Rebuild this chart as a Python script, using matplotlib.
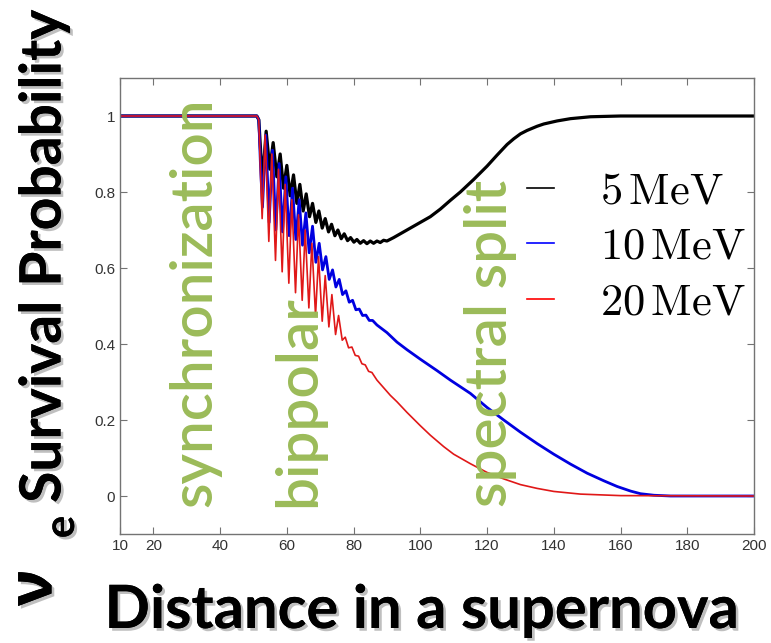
import matplotlib
matplotlib.use('Agg')
import matplotlib.pyplot as plt
import matplotlib.patheffects as pe

# distance in a supernova and nu_e survival probability
x_5mev = [10, 51.0, 51.6, 52.2, 52.8, 53.8, 54.9, 55.9, 57.0, 58.0, 59.0, 60.0,
          61.0, 62.0, 63.0, 63.9, 64.9, 65.8, 66.8, 67.7, 68.7, 69.6, 70.6,
          71.5, 72.5, 73.4, 74.4, 75.3, 76.3, 77.2, 78.2, 79.1, 80.1, 81.0,
          82.0, 83.0, 84.0, 85.0, 86.0, 87.0, 88.0, 89.0, 90.0, 92, 95, 100,
          103, 106, 109, 112, 116, 120, 123, 126, 128, 130, 132, 135, 137,
          141, 145, 151, 160, 200]
p_5mev = [1, 1, 0.99, 0.90, 0.84, 0.96, 0.86, 0.93, 0.84, 0.90, 0.81, 0.87,
          0.79, 0.845, 0.77, 0.82, 0.75, 0.795, 0.735, 0.77, 0.72, 0.75, 0.705,
          0.73, 0.695, 0.715, 0.685, 0.70, 0.677, 0.69, 0.672, 0.68, 0.668,
          0.675, 0.665, 0.672, 0.664, 0.671, 0.665, 0.671, 0.667, 0.673, 0.671,
          0.68, 0.695, 0.72, 0.735, 0.755, 0.778, 0.80, 0.833, 0.868, 0.897,
          0.925, 0.94, 0.953, 0.962, 0.973, 0.979, 0.987, 0.993, 0.998, 1.0,
          1.0]

x_10mev = [10, 51.0, 51.6, 52.1, 52.7, 53.7, 54.7, 55.7, 56.7, 57.7, 58.7,
           59.7, 60.7, 61.7, 62.7, 63.7, 64.7, 65.7, 66.7, 67.7, 68.7, 69.7,
           70.7, 71.7, 72.7, 73.7, 74.7, 75.7, 76.7, 77.7, 78.7, 79.7, 80.7,
           81.7, 82.7, 83.7, 84.7, 85.7, 87, 88.5, 90, 93, 96, 100, 105, 109,
           115, 120, 125, 130, 135, 140, 145, 150, 155, 159, 163, 166, 170,
           175, 200]
p_10mev = [1, 1, 0.99, 0.87, 0.76, 0.95, 0.72, 0.91, 0.70, 0.875, 0.695,
           0.84, 0.685, 0.81, 0.675, 0.78, 0.66, 0.745, 0.64, 0.71, 0.615,
           0.665, 0.595, 0.63, 0.57, 0.595, 0.55, 0.57, 0.53, 0.54, 0.51,
           0.515, 0.49, 0.492, 0.475, 0.476, 0.462, 0.462, 0.45, 0.44, 0.43,
           0.405, 0.385, 0.36, 0.33, 0.305, 0.27, 0.233, 0.2, 0.168, 0.138,
           0.11, 0.084, 0.06, 0.04, 0.025, 0.013, 0.006, 0.002, 0.0, 0.0]

x_20mev = [10, 51.0, 51.6, 52.1, 52.6, 53.5, 54.6, 55.5, 56.6, 57.5, 58.6,
           59.5, 60.6, 61.5, 62.6, 63.5, 64.6, 65.5, 66.6, 67.5, 68.6, 69.5,
           70.6, 71.5, 72.6, 73.5, 74.6, 75.5, 76.6, 77.5, 78.5, 79.5, 80.5,
           81.5, 82.5, 83.5, 84.5, 85.5, 87, 89, 91, 93, 96, 100, 103, 107,
           110, 115, 120, 125, 130, 135, 140, 148, 160, 200]
p_20mev = [1, 1, 0.99, 0.85, 0.73, 0.95, 0.67, 0.90, 0.62, 0.86, 0.59, 0.82,
           0.56, 0.78, 0.535, 0.74, 0.515, 0.70, 0.495, 0.665, 0.475, 0.63,
           0.46, 0.58, 0.445, 0.53, 0.425, 0.475, 0.41, 0.418, 0.39, 0.392,
           0.37, 0.368, 0.348, 0.345, 0.328, 0.325, 0.305, 0.285, 0.265, 0.248,
           0.22, 0.185, 0.16, 0.13, 0.11, 0.085, 0.062, 0.045, 0.03, 0.02,
           0.012, 0.005, 0.001, 0.0]

labels = [r'$5\,\mathrm{MeV}$', r'$10\,\mathrm{MeV}$', r'$20\,\mathrm{MeV}$']
xticks = [10, 20, 40, 60, 80, 100, 120, 140, 160, 180, 200]
yticks = [0, 0.2, 0.4, 0.6, 0.8, 1]
ytick_labels = ['0', '0.2', '0.4', '0.6', '0.8', '1']

# (text, x position in data units)
regimes = [('synchronization', 32.5), ('bippolar', 63.4), ('spectral split', 121.0)]

GREEN = '#9bbb59'
SHADOW = [pe.withSimplePatchShadow(offset=(2, -2), shadow_rgbFace='0.45', alpha=0.45),
          pe.Normal()]


def draw_curves(ax):
    l1, = ax.plot(x_5mev, p_5mev, color='black', lw=2.3)
    l2, = ax.plot(x_10mev, p_10mev, color='#0000e0', lw=2.0)
    l3, = ax.plot(x_20mev, p_20mev, color='#e01818', lw=1.2)
    return [l1, l2, l3]


def style_axes(ax):
    ax.set_xlim(10, 200)
    ax.set_ylim(-0.1, 1.1)
    ax.set_xticks(xticks)
    ax.set_yticks(yticks, ytick_labels)
    ax.tick_params(direction='in', top=True, right=True, length=5,
                   color='0.45', labelcolor='0.2', labelsize=11)
    for lab in ax.get_xticklabels() + ax.get_yticklabels():
        lab.set_family('Liberation Sans')
    for s in ax.spines.values():
        s.set_color('0.45')
        s.set_linewidth(1.0)


fig = plt.figure(figsize=(7.71, 6.43), dpi=100)
ax = fig.add_axes([120 / 771, 1 - 534 / 643, 634 / 771, 456 / 643])

lines = draw_curves(ax)
style_axes(ax)

for txt, xpos in regimes:
    ax.text(xpos, -0.03, txt, rotation=90, ha='center', va='bottom',
            color=GREEN, fontsize=42, fontweight='semibold', family='Lato')

leg = ax.legend([plt.Line2D([], [], color=c, lw=1.2) for c in ['black', 'blue', 'red']],
                labels, loc='upper left', bbox_to_anchor=(0.642, 0.80),
                frameon=False, borderpad=0, borderaxespad=0,
                handlelength=0.6, handletextpad=1.05, labelspacing=0.28,
                prop={'size': 32, 'math_fontfamily': 'cm'})

# axis titles drawn by hand, bold with a light shadow
fig.text(44 / 771, 1 - 256 / 643, 'Survival Probability', rotation=90,
         ha='center', va='center', fontsize=41, fontweight='bold',
         family='Lato', path_effects=SHADOW)
fig.text(36 / 771, 1 - 588 / 643, 'ν', rotation=90, ha='center', va='center',
         fontsize=44, fontweight='bold', family=['Open Sans', 'DejaVu Sans'],
         path_effects=SHADOW)
fig.text(62 / 771, 1 - 527 / 643, 'e', rotation=90, ha='center', va='center',
         fontsize=30, fontweight='bold', family='Lato', path_effects=SHADOW)
fig.text(422 / 771, 1 - 628 / 643, 'Distance in a supernova', ha='center',
         va='baseline', fontsize=43, fontweight='bold', family='Lato',
         path_effects=SHADOW)

fig.savefig('out.png', dpi=100)
